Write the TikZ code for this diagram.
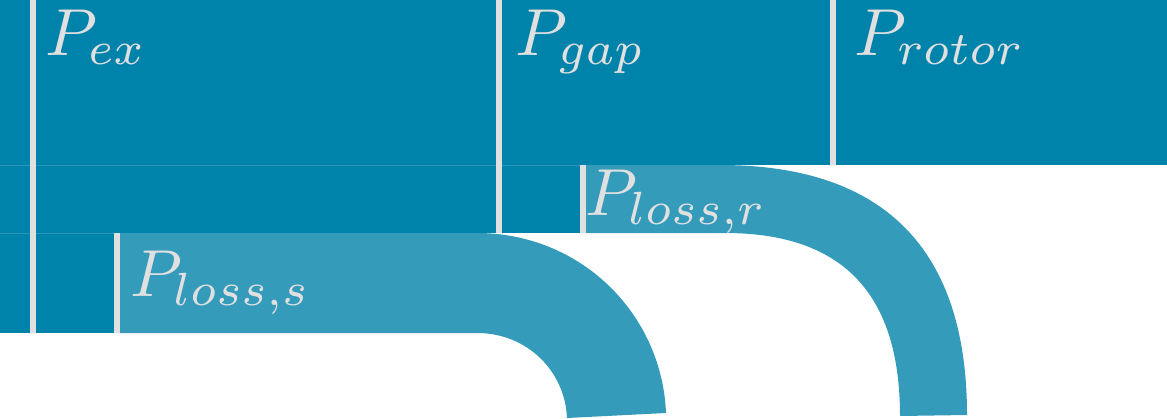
\documentclass[tikz,border=0pt]{standalone}
\definecolor{darkb}{RGB}{0,131,170}
\definecolor{lightb}{RGB}{52,155,187}
\definecolor{sep}{RGB}{224,224,224}
\definecolor{seam}{RGB}{40,150,185}
\tikzset{
  sepline/.style={draw=sep,line width=5.5pt},
  seamline/.style={draw=seam,line width=0.9pt},
  lbl/.style={text=sep,inner sep=0pt,anchor=base west,font=\normalsize,scale=6.65}
}
\begin{document}
\begin{tikzpicture}[x=1pt,y=-1pt]
\useasboundingbox (0,0) rectangle (1167,418);
% dark blue input band
\fill[darkb] (0,0) rectangle (1167,165);
\fill[darkb] (0,165) rectangle (583,233);
\fill[darkb] (0,233) rectangle (117,333);
\draw[seamline] (0,165) -- (583,165);
\draw[seamline] (0,233) -- (117,233);
% loss bands
\fill[lightb] (117,233) -- (477,233) .. controls (581,233) and (662,314) .. (666,413)
  -- (567,418) .. controls (565,371) and (527,333) .. (477,333) -- (117,333) -- cycle;
\fill[lightb] (583,165) -- (720,165) .. controls (885,165) and (967,250) .. (967,415)
  -- (900,416) .. controls (900,296) and (845,233) .. (725,233) -- (583,233) -- cycle;
% separators
\coordinate (s1t) at (33,0);   \coordinate (s1b) at (33,333);
\coordinate (s2t) at (499,0);  \coordinate (s2b) at (499,233);
\coordinate (s3t) at (583,165);\coordinate (s3b) at (583,233);
\coordinate (s4t) at (833,0);  \coordinate (s4b) at (833,165);
\coordinate (s5t) at (117,233);\coordinate (s5b) at (117,333);
\draw[sepline] (s1t) -- (s1b);
\draw[sepline] (s2t) -- (s2b);
\draw[sepline] (s3t) -- (s3b);
\draw[sepline] (s4t) -- (s4b);
\draw[sepline] (s5t) -- (s5b);
% labels
\node[lbl] (pex) at (44,55) {$P_{ex}$};
\node[lbl] (pgap) at (514,55) {$P_{gap}$};
\node[lbl] (protor) at (853,55) {$P_{rotor}$};
\node[lbl] (plr) at (584,215) {$P_{loss,r}$};
\node[lbl] (pls) at (129,296) {$P_{loss,s}$};
\end{tikzpicture}
\end{document}
